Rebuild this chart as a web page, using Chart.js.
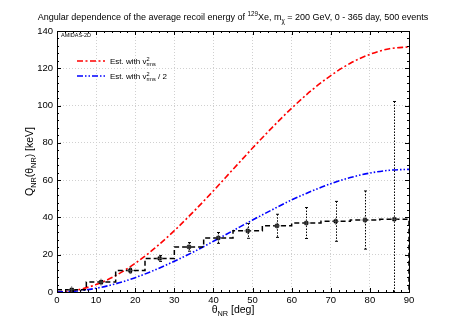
<!DOCTYPE html>
<html><head><meta charset="utf-8">
<script src="https://cdn.jsdelivr.net/npm/chart.js@4"></script>
<style>html,body{margin:0;padding:0;background:#fff}#wrap{width:458px;height:321px}</style>
</head><body><div id="wrap"><canvas id="c" width="458" height="321"></canvas></div>
<script>
// ---- data ----
const curveTheta = [0,5,10,15,20,25,30,35,40,45,50,55,60,65,70,75,80,85,90];
const estFull    = [0,1.0,4.0,8.8,15.4,23.5,32.9,43.3,54.3,65.8,77.2,88.2,98.6,108.0,116.1,122.7,127.5,130.5,131.5];
const estHalf    = [0,0.5,2.0,4.4,7.7,11.8,16.5,21.6,27.2,32.9,38.6,44.1,49.4,54.0,58.1,61.4,63.8,65.3,65.8];
const binEdges   = [0,7.5,15,22.5,30,37.5,45,52.5,60,67.5,75,82.5,90];
const binCenters = [3.75,11.25,18.75,26.25,33.75,41.25,48.75,56.25,63.75,71.25,78.75,86.25];
const binValues  = [1.2,5.3,11.5,18.0,24.2,29.0,32.8,35.5,37.0,37.9,38.6,39.0];
const binErrors  = [0.4,0.9,1.2,1.6,2.3,2.9,4.0,6.2,8.3,10.7,15.6,63.2];
const xTicks = [0,10,20,30,40,50,60,70,80,90];
const yTicks = [0,20,40,60,80,100,120,140];

const FONT = '"Liberation Sans", Arial, Helvetica, sans-serif';

const curveFull = curveTheta.map((t,i)=>({x:t,y:estFull[i]}));
const curveHalf = curveTheta.map((t,i)=>({x:t,y:estHalf[i]}));
const steps = binValues.map((v,i)=>({x:binEdges[i],y:v}));
steps.push({x:binEdges[binEdges.length-1], y:binValues[binValues.length-1]});
steps.push({x:binEdges[binEdges.length-1], y:0});
const pts = binCenters.map((t,i)=>({x:t,y:binValues[i]}));

function richWidth(ctx, segs, fs){
  let w=0;
  for(const s of segs){
    if(s.stack){ ctx.font=(fs*0.7)+'px '+FONT; w+=Math.max(ctx.measureText(s.sup).width, ctx.measureText(s.sub).width); }
    else { ctx.font=((s.s==='n')?fs:fs*0.7)+'px '+FONT; w+=ctx.measureText(s.t).width; }
  }
  return w;
}
function drawRich(ctx, segs, x, y, fs){
  ctx.textBaseline='alphabetic'; ctx.textAlign='left';
  for(const s of segs){
    if(s.stack){
      ctx.font=(fs*0.7)+'px '+FONT;
      ctx.fillText(s.sup, x, y-fs*0.42);
      ctx.fillText(s.sub, x, y+fs*0.3);
      x+=Math.max(ctx.measureText(s.sup).width, ctx.measureText(s.sub).width);
    } else if(s.s==='n'){ ctx.font=fs+'px '+FONT; ctx.fillText(s.t,x,y); x+=ctx.measureText(s.t).width; }
    else if(s.s==='sup'){ ctx.font=(fs*0.7)+'px '+FONT; ctx.fillText(s.t,x,y-fs*0.42); x+=ctx.measureText(s.t).width; }
    else { ctx.font=(fs*0.7)+'px '+FONT; ctx.fillText(s.t,x,y+fs*0.28); x+=ctx.measureText(s.t).width; }
  }
}

const deco = {
  id:'deco',
  afterDatasetsDraw(chart){
    const ctx=chart.ctx, a=chart.chartArea, xs=chart.scales.x, ys=chart.scales.y;
    ctx.save();
    ctx.beginPath(); ctx.rect(a.left,a.top,a.right-a.left,a.bottom-a.top); ctx.clip();
    ctx.strokeStyle='#000'; ctx.lineWidth=1;
    binCenters.forEach((t,i)=>{
      const px=Math.round(xs.getPixelForValue(t))+0.5;
      const y1=ys.getPixelForValue(binValues[i]+binErrors[i]);
      const y2=ys.getPixelForValue(binValues[i]-binErrors[i]);
      ctx.setLineDash([1.5,1.5]);
      ctx.beginPath(); ctx.moveTo(px,y1); ctx.lineTo(px,y2); ctx.stroke();
      ctx.setLineDash([]);
      ctx.beginPath(); ctx.moveTo(px-1.5,y1); ctx.lineTo(px+1.5,y1); ctx.moveTo(px-1.5,y2); ctx.lineTo(px+1.5,y2); ctx.stroke();
    });
    // marker crosses
    ctx.strokeStyle='#555'; ctx.lineWidth=0.8;
    binCenters.forEach((t,i)=>{
      const px=xs.getPixelForValue(t), py=ys.getPixelForValue(binValues[i]);
      ctx.beginPath(); ctx.moveTo(px-3.5,py); ctx.lineTo(px+3.5,py); ctx.moveTo(px,py-3.5); ctx.lineTo(px,py+3.5); ctx.stroke();
    });
    ctx.restore();
  },
  afterDraw(chart){
    const ctx=chart.ctx, a=chart.chartArea, xs=chart.scales.x, ys=chart.scales.y;
    ctx.save();
    ctx.fillStyle='#000'; ctx.strokeStyle='#000';
    ctx.lineWidth=1; ctx.setLineDash([]);
    ctx.strokeRect(Math.round(a.left)+0.5, Math.round(a.top)+0.5, Math.round(a.right-a.left), Math.round(a.bottom-a.top));
    ctx.beginPath();
    for(let v=0; v<=140; v+=4){
      const py=Math.round(ys.getPixelForValue(v))+0.5; const L=(v%20===0)?4:2;
      ctx.moveTo(a.left,py); ctx.lineTo(a.left+L,py); ctx.moveTo(a.right,py); ctx.lineTo(a.right-L,py);
    }
    for(let v=0; v<=90; v+=2){
      const px=Math.round(xs.getPixelForValue(v))+0.5; const L=(v%10===0)?4:2;
      ctx.moveTo(px,a.bottom); ctx.lineTo(px,a.bottom-L); ctx.moveTo(px,a.top); ctx.lineTo(px,a.top+L);
    }
    ctx.stroke();
    // title
    const tsegs=[{t:'Angular dependence of the average recoil energy of ',s:'n'},{t:'129',s:'sup'},{t:'Xe, m',s:'n'},{t:'\u03C7',s:'sub'},{t:' = 200 GeV, 0 - 365 day, 500 events',s:'n'}];
    const tfs=9.0; const tw=richWidth(ctx,tsegs,tfs);
    drawRich(ctx,tsegs,(a.left+a.right)/2-tw/2,20,tfs);
    // x title
    const xsegs=[{t:'\u03B8',s:'n'},{t:'NR',s:'sub'},{t:' [deg]',s:'n'}];
    const xw=richWidth(ctx,xsegs,10.5);
    drawRich(ctx,xsegs,(a.left+a.right)/2-xw/2,313,10.5);
    // y title
    const ysegs=[{t:'Q',s:'n'},{t:'NR',s:'sub'},{t:'(\u03B8',s:'n'},{t:'NR',s:'sub'},{t:') [keV]',s:'n'}];
    const yw=richWidth(ctx,ysegs,10.5);
    ctx.save(); ctx.translate(33,(a.top+a.bottom)/2); ctx.rotate(-Math.PI/2);
    drawRich(ctx,ysegs,-yw/2,0,10.5); ctx.restore();
    // AMIDAS label
    ctx.font='5.5px '+FONT; ctx.textBaseline='middle'; ctx.textAlign='left';
    ctx.fillText('AMIDAS-2D',a.left+4,a.top+4);
    // legend
    const lx1=77, lx2=105, ly1=61, ly2=76;
    ctx.lineWidth=1.5;
    ctx.strokeStyle='#ff0000'; ctx.setLineDash([6,2.5,2,2.5]);
    ctx.beginPath(); ctx.moveTo(lx1,ly1); ctx.lineTo(lx2,ly1); ctx.stroke();
    ctx.strokeStyle='#0000ff'; ctx.setLineDash([6,2,1.5,2,1.5,2]);
    ctx.beginPath(); ctx.moveTo(lx1,ly2); ctx.lineTo(lx2,ly2); ctx.stroke();
    ctx.setLineDash([]); ctx.fillStyle='#000';
    drawRich(ctx,[{t:'Est. with v',s:'n'},{stack:true,sup:'2',sub:'rms'}],110,ly1+3,8);
    drawRich(ctx,[{t:'Est. with v',s:'n'},{stack:true,sup:'2',sub:'rms'},{t:' / 2',s:'n'}],110,ly2+3,8);
    ctx.restore();
  }
};

new Chart(document.getElementById('c'),{
  data:{datasets:[
    {type:'line',data:curveFull,borderColor:'#ff0000',borderWidth:1.6,borderDash:[6,2.5,2,2.5],pointRadius:0,tension:0.4,cubicInterpolationMode:'monotone',fill:false,order:3},
    {type:'line',data:curveHalf,borderColor:'#0000ff',borderWidth:1.6,borderDash:[6,2,1.5,2,1.5,2],pointRadius:0,tension:0.4,cubicInterpolationMode:'monotone',fill:false,order:2},
    {type:'line',data:steps,borderColor:'#000',borderWidth:1.5,borderDash:[5,3],stepped:'before',pointRadius:0,fill:false,order:1},
    {type:'scatter',data:pts,pointStyle:'rect',pointRadius:2.4,backgroundColor:'#000',borderColor:'#000',borderWidth:0.5,order:0}
  ]},
  options:{
    responsive:false,animation:false,
    layout:{padding:{top:31,right:49,left:0,bottom:0}},
    plugins:{legend:{display:false},tooltip:{enabled:false},title:{display:false}},
    scales:{
      x:{type:'linear',min:0,max:90,
        afterBuildTicks(s){s.ticks=xTicks.map(v=>({value:v}));},
        afterFit(s){s.height=29;},
        grid:{color:'#d0d0d0',lineWidth:1,drawTicks:false},
        border:{display:false,dash:[1,2]},
        ticks:{color:'#000',font:{family:FONT,size:9.5},padding:3,maxRotation:0}},
      y:{type:'linear',min:0,max:140,
        afterBuildTicks(s){s.ticks=yTicks.map(v=>({value:v}));},
        afterFit(s){s.width=57;},
        grid:{color:'#d0d0d0',lineWidth:1,drawTicks:false},
        border:{display:false,dash:[1,2]},
        ticks:{color:'#000',font:{family:FONT,size:9.5},padding:4}}
    }
  },
  plugins:[deco]
});
</script></body></html>
